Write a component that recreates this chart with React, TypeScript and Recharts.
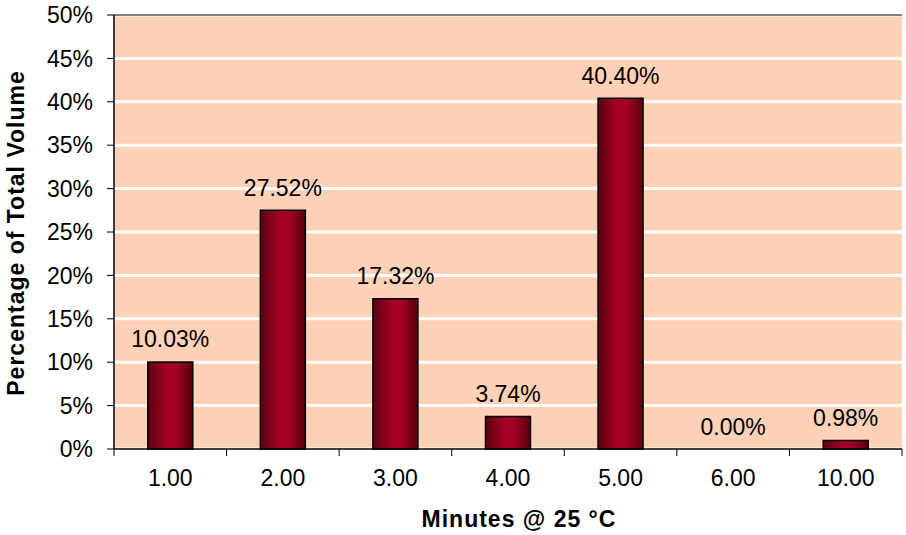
import { ComposedChart, Bar, Line, XAxis, YAxis, CartesianGrid, LabelList, ReferenceLine } from 'recharts';

const minutes = ['1.00', '2.00', '3.00', '4.00', '5.00', '6.00', '10.00'];
const volumePct = [10.03, 27.52, 17.32, 3.74, 40.4, 0.0, 0.98];
const yTicks = [0, 5, 10, 15, 20, 25, 30, 35, 40, 45, 50];

const data = minutes.map((m, i) => ({ m, v: volumePct[i] }));

const W = 906;
const H = 535;
const LEFT = 114;
const RIGHT = 4;
const BAND = (W - LEFT - RIGHT) / minutes.length;
const FONT = '"Liberation Sans", Arial, sans-serif';
const txt = { fontSize: 23, fontFamily: FONT, fill: '#000' };

function XTick(props: any) {
  const { x, y, payload, index } = props;
  const axisY = y - 21;
  const last = index === minutes.length - 1;
  return (
    <g>
      <line x1={x - BAND / 2} y1={axisY} x2={x - BAND / 2} y2={axisY + 7} stroke="#000" />
      {last && <line x1={x + BAND / 2} y1={axisY} x2={x + BAND / 2} y2={axisY + 7} stroke="#000" />}
      <text x={x} y={y} dy="0.71em" textAnchor="middle" style={txt}>
        {payload.value}
      </text>
    </g>
  );
}

function YTick(props: any) {
  const { x, y, payload } = props;
  return (
    <text x={x} y={y} dy="0.355em" textAnchor="end" style={txt}>
      {`${payload.value}%`}
    </text>
  );
}

function PctLabel(props: any) {
  const { x, y, value } = props;
  return (
    <text x={x} y={y - 14.5} textAnchor="middle" style={txt}>
      {`${Number(value).toFixed(2)}%`}
    </text>
  );
}

export default function App() {
  return (
    <div style={{ position: 'absolute', left: 0, top: 0, fontFamily: FONT }}>
      <svg width={0} height={0} style={{ position: 'absolute' }}>
        <defs>
          <linearGradient id="barFill" x1="0" y1="0" x2="1" y2="0">
            <stop offset="0%" stopColor="#5c0010" />
            <stop offset="45%" stopColor="#a60026" />
            <stop offset="65%" stopColor="#a00024" />
            <stop offset="100%" stopColor="#55000c" />
          </linearGradient>
        </defs>
      </svg>
      <ComposedChart
        width={W}
        height={H}
        data={data}
        margin={{ top: 15, right: RIGHT, bottom: 0, left: 0 }}
        barCategoryGap="30%"
      >
        <CartesianGrid vertical={false} stroke="#ffffff" strokeWidth={3} fill="#ffd1b6" fillOpacity={1} />
        <XAxis
          dataKey="m"
          height={86}
          tickLine={false}
          tickSize={7}
          tickMargin={14}
          tick={<XTick />}
          axisLine={{ stroke: '#000', strokeWidth: 1.5 }}
        />
        <YAxis
          width={LEFT}
          domain={[0, 50]}
          ticks={yTicks}
          interval={0}
          tick={<YTick />}
          tickSize={7}
          tickMargin={14}
          tickLine={{ stroke: '#000' }}
          axisLine={{ stroke: '#000', strokeWidth: 1.5 }}
        />
        <YAxis yAxisId="r" orientation="right" width={0} tick={false} tickLine={false} axisLine={{ stroke: '#808080', strokeWidth: 2 }} />
        <ReferenceLine y={50} stroke="#808080" strokeWidth={2} />
        <Bar dataKey="v" fill="url(#barFill)" stroke="#000" strokeWidth={1.5} isAnimationActive={false} />
        <Line dataKey="v" stroke="none" dot={false} activeDot={false} isAnimationActive={false}>
          <LabelList dataKey="v" content={<PctLabel />} />
        </Line>
        <text x={519} y={527} textAnchor="middle" style={{ ...txt, fontWeight: 'bold', letterSpacing: 1 }}>
          Minutes @ 25 °C
        </text>
        <text
          x={24}
          y={233}
          textAnchor="middle"
          transform="rotate(-90 24 233)"
          style={{ ...txt, fontWeight: 'bold', letterSpacing: 1 }}
        >
          Percentage of Total Volume
        </text>
      </ComposedChart>
    </div>
  );
}
